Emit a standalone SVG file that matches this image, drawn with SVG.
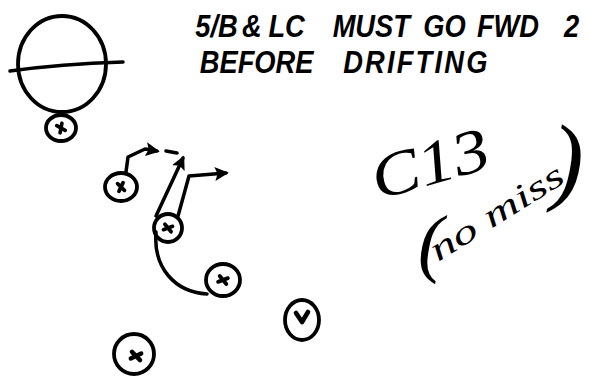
<svg xmlns="http://www.w3.org/2000/svg" xmlns:xlink="http://www.w3.org/1999/xlink" width="590" height="381" viewBox="0 0 590 381">
<style>
.ring{fill:none;stroke:#000;stroke-width:3.8}
.mk{fill:none;stroke:#000;stroke-width:4.6;stroke-linecap:round;stroke-linejoin:round}
.rt{fill:none;stroke:#000;stroke-width:3.5;stroke-linecap:round;stroke-linejoin:round}
.hdr{font-family:"Liberation Sans",Arial,sans-serif;font-weight:bold;font-style:italic;font-size:31px;fill:#000}
.hand{font-family:"Liberation Serif","Times New Roman",serif;font-style:italic;fill:#000}
</style>
<defs>
<marker id="ah" viewBox="0 0 10 10" refX="8" refY="5" markerWidth="4" markerHeight="4" orient="auto" markerUnits="strokeWidth">
<path d="M0,0 L10,5 L0,10 L2,5 Z" fill="#000"/>
</marker>
<g id="xm"><path class="mk" d="M-6,-1 L6,1 M-1,-6 L1,6"/></g>
</defs>
<rect width="590" height="381" fill="#fff"/>

<g id="ball">
<ellipse class="ring" cx="62" cy="64" rx="44" ry="48"/>
<path class="rt" d="M10,71 Q60,64 123,62" stroke-width="4"/>
</g>

<g id="player6"><ellipse class="ring" cx="61" cy="128" rx="15" ry="13"/><use xlink:href="#xm" transform="translate(61,128) rotate(20) scale(0.8)"/></g>
<g id="player1"><ellipse class="ring" cx="121" cy="187" rx="16" ry="14"/><use xlink:href="#xm" transform="translate(121,187) rotate(35) scale(0.8)"/></g>
<g id="player2"><ellipse class="ring" cx="168" cy="228" rx="14" ry="14"/><use xlink:href="#xm" transform="translate(168,228) rotate(-30) scale(0.8)"/></g>
<g id="player3"><ellipse class="ring" cx="223" cy="280" rx="17" ry="16"/><use xlink:href="#xm" transform="translate(223,280) rotate(-30) scale(0.85)"/></g>
<g id="player4"><ellipse class="ring" cx="302" cy="320" rx="17" ry="20"/><path class="mk" d="M296,313 L302,322 L308,312" stroke-width="5.5"/></g>
<g id="player5"><ellipse class="ring" cx="134" cy="354" rx="20" ry="20"/><use xlink:href="#xm" transform="translate(136,356) rotate(-35) scale(0.95)"/></g>

<g id="connectors">
<path class="rt" d="M126,172 L128,157 L145,149 L157,151" marker-end="url(#ah)"/>
<path class="rt" d="M166,151 L177,153" stroke-width="4"/>
<path class="rt" d="M156,216 L183,158" marker-end="url(#ah)"/>
<path class="rt" d="M178,216 L189,176 L226,173" marker-end="url(#ah)"/>
<path class="rt" d="M156,232 C153,268 175,292 207,294"/>
</g>

<g id="notes">
<text class="hdr" y="37" transform="scale(0.88,1)"><tspan x="222">5/B</tspan> <tspan x="275">&amp;</tspan> <tspan x="305">LC</tspan> <tspan x="378">MUST</tspan> <tspan x="481">GO</tspan> <tspan x="542">FWD</tspan> <tspan x="641">2</tspan></text>
<text class="hdr" y="73" transform="scale(0.88,1)"><tspan x="227">BEFORE</tspan> <tspan x="390" letter-spacing="2.5">DRIFTING</tspan></text>
<text class="hand" x="378" y="200" font-size="62" textLength="120" lengthAdjust="spacingAndGlyphs" transform="rotate(-16 378 200)">C13</text>
<text class="hand" x="418" y="268" font-size="76" font-style="normal">(</text>
<text class="hand" x="438" y="262" font-size="34" textLength="152" lengthAdjust="spacingAndGlyphs" transform="rotate(-32 438 262)">no miss</text>
<text class="hand" x="551" y="192" font-size="98" font-style="normal">)</text>
</g>
</svg>
